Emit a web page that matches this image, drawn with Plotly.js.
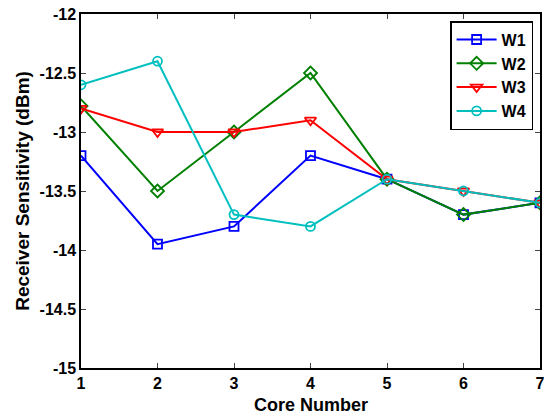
<!DOCTYPE html>
<html><head><meta charset="utf-8">
<script src="https://cdn.plot.ly/plotly-3.0.1.min.js"></script>
<style>body{margin:0;background:#fff}#c{width:544px;height:416px}</style>
</head><body><div id="c"></div>
<script>
var cores = [1, 2, 3, 4, 5, 6, 7];
var w1 = [-13.2, -13.95, -13.8, -13.2, -13.4, -13.7, -13.6];
var w2 = [-12.78, -13.5, -13.0, -12.5, -13.4, -13.7, -13.6];
var w3 = [-12.8, -13.0, -13.0, -12.9, -13.4, -13.5, -13.6];
var w4 = [-12.6, -12.4, -13.7, -13.8, -13.4, -13.5, -13.6];
var names = ['W1', 'W2', 'W3', 'W4'];
var yTicks = [-15, -14.5, -14, -13.5, -13, -12.5, -12];
var yTickLabels = ['-15', '-14.5', '-14', '-13.5', '-13', '-12.5', '-12'];
var xTickLabels = ['1', '2', '3', '4', '5', '6', '7'];
var xTitle = 'Core Number';
var yTitle = 'Receiver Sensitivity (dBm)';

var series = [w1, w2, w3, w4];
var colors = ['#0000ff', '#008000', '#ff0000', '#00bfbf'];
var symbols = ['square-open', 'diamond-open', 'triangle-down-open', 'circle-open'];
var msizes = [9, 10, 10, 9];
var traces = series.map(function (s, i) {
  return {
    x: cores, y: s, name: names[i], type: 'scatter', mode: 'lines+markers',
    line: {color: colors[i], width: 2},
    marker: {symbol: symbols[i], size: msizes[i], color: colors[i], line: {width: 1.8, color: colors[i]}}
  };
});
var fam = 'Arial, Liberation Sans, sans-serif';
var layout = {
  width: 544, height: 416,
  margin: {l: 81, r: 4, t: 14, b: 48},
  paper_bgcolor: '#fff', plot_bgcolor: '#fff',
  showlegend: true,
  legend: {
    x: 0.985, y: 0.98, xanchor: 'right', yanchor: 'top',
    bordercolor: '#000', borderwidth: 1.5, bgcolor: '#fff',
    font: {family: fam, size: 16, weight: 'bold', color: '#000'},
    tracegroupgap: 0, itemwidth: 40
  },
  xaxis: {
    range: [1, 7], tickvals: cores, ticktext: xTickLabels, ticks: 'inside', ticklen: 5, tickwidth: 1,
    ticklabeloverflow: 'allow',
    showline: true, linecolor: '#000', linewidth: 1.5, mirror: 'ticks',
    showgrid: false, zeroline: false,
    tickfont: {family: fam, size: 16, weight: 'bold', color: '#000'}
  },
  yaxis: {
    range: [-15, -12], tickvals: yTicks, ticktext: yTickLabels, ticks: 'inside', ticklen: 5, tickwidth: 1,
    ticklabeloverflow: 'allow',
    showline: true, linecolor: '#000', linewidth: 1.5, mirror: 'ticks',
    showgrid: false, zeroline: false,
    tickfont: {family: fam, size: 16, weight: 'bold', color: '#000'},
    title: {text: yTitle, standoff: 5, font: {family: fam, size: 19, weight: 'bold', color: '#000'}}
  },
  annotations: [{
    text: xTitle, xref: 'paper', yref: 'paper', x: 0.5, y: -48 / 354,
    xanchor: 'center', yanchor: 'bottom', showarrow: false, borderpad: 0,
    font: {family: fam, size: 18, weight: 'bold', color: '#000'}
  }]
};
Plotly.newPlot('c', traces, layout, {displayModeBar: false});
</script>
</body></html>
